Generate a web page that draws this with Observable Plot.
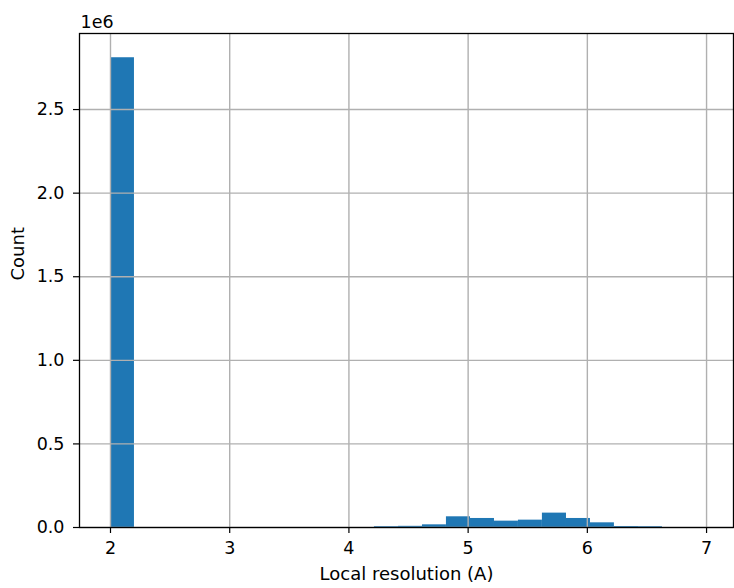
<!DOCTYPE html>
<html>
<head>
<meta charset="utf-8">
<script src="https://cdn.jsdelivr.net/npm/d3@7"></script>
<script src="https://cdn.jsdelivr.net/npm/@observablehq/plot@0.6"></script>
<style>
  html, body { margin: 0; padding: 0; background: #fff; }
  svg { display: block; }
</style>
</head>
<body>
<div id="chart"></div>
<script>
// Histogram bin edges (Å) and counts
const binStart = [2.000, 2.201, 2.403, 2.604, 2.805, 3.007, 3.208, 3.409, 3.610, 3.812, 4.013, 4.214,
                  4.416, 4.617, 4.818, 5.020, 5.221, 5.422, 5.623, 5.825, 6.026, 6.227, 6.429];
const binEnd   = [2.201, 2.403, 2.604, 2.805, 3.007, 3.208, 3.409, 3.610, 3.812, 4.013, 4.214, 4.416,
                  4.617, 4.818, 5.020, 5.221, 5.422, 5.623, 5.825, 6.026, 6.227, 6.429, 6.630];
const counts   = [2810000, 0, 0, 0, 0, 0, 0, 0, 0, 0, 0, 5000,
                  7000, 16000, 64000, 54000, 38000, 44000, 86000, 54000, 28000, 6000, 5000];
const xTicks = [2, 3, 4, 5, 6, 7];
const yTicks = [0, 500000, 1000000, 1500000, 2000000, 2500000];
const yTickLabels = ["0.0", "0.5", "1.0", "1.5", "2.0", "2.5"];
const xLabel = "Local resolution (A)";
const yLabel = "Count";
const yExponent = "1e6";

const bins = counts.map((c, i) => ({x1: binStart[i], x2: binEnd[i], count: c}));

const font = "DejaVu Sans, sans-serif";
const fs = 17.5;
const chart = Plot.plot({
  width: 734,
  height: 588,
  marginLeft: 79,
  marginRight: 1,
  marginTop: 33,
  marginBottom: 61,
  style: {fontFamily: font, fontSize: fs + "px", background: "#fff", color: "#000"},
  x: {domain: [1.74, 7.226]},
  y: {domain: [0, 2955000]},
  marks: [
    Plot.rectY(bins, {x1: "x1", x2: "x2", y: "count", fill: "#1f77b4"}),
    Plot.ruleX(xTicks, {stroke: "#b0b0b0", strokeWidth: 1.4}),
    Plot.ruleY(yTicks, {stroke: "#b0b0b0", strokeWidth: 1.4}),
    Plot.axisX({ticks: xTicks, tickSize: 6, tickPadding: 8, fontSize: fs, label: null,
                tickFormat: d => String(d), stroke: "#000", strokeWidth: 1.2}),
    Plot.axisY({ticks: yTicks, tickSize: 6, tickPadding: 9, fontSize: fs, label: null,
                tickFormat: d => yTickLabels[yTicks.indexOf(d)], stroke: "#000", strokeWidth: 1.2}),
    Plot.frame({stroke: "#000", strokeWidth: 1.3}),
    Plot.text([xLabel], {frameAnchor: "bottom", dy: 52, fontSize: 18, fill: "#000"}),
    Plot.text([yLabel], {frameAnchor: "left", dx: -61, rotate: -90, fontSize: 18, fill: "#000"}),
    Plot.text([yExponent], {frameAnchor: "top-left", textAnchor: "start", lineAnchor: "bottom",
                            dx: 1, dy: -6, fontSize: fs, fill: "#000"})
  ]
});
document.getElementById("chart").appendChild(chart);
</script>
</body>
</html>
